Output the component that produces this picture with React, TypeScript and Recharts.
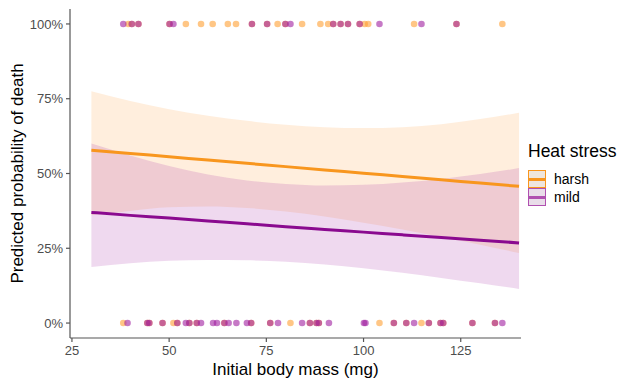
import React from "react";
import {
  ComposedChart,
  Area,
  Line,
  Scatter,
  XAxis,
  YAxis,
  Label,
} from "recharts";

// fitted curves (body mass in mg -> probability)
const mass = [30, 40, 50, 60, 70, 80, 90, 100, 110, 120, 130, 140];
const harshFit = [0.578, 0.567, 0.556, 0.545, 0.534, 0.523, 0.512, 0.501, 0.49, 0.479, 0.468, 0.457];
const harshLow = [0.36, 0.375, 0.387, 0.39, 0.385, 0.373, 0.356, 0.335, 0.313, 0.288, 0.262, 0.234];
const harshHigh = [0.775, 0.742, 0.715, 0.693, 0.676, 0.663, 0.655, 0.652, 0.655, 0.665, 0.682, 0.703];
const mildFit = [0.37, 0.36, 0.351, 0.341, 0.332, 0.322, 0.313, 0.304, 0.295, 0.286, 0.277, 0.268];
const mildLow = [0.187, 0.2, 0.208, 0.211, 0.21, 0.205, 0.196, 0.183, 0.168, 0.151, 0.133, 0.114];
const mildHigh = [0.6, 0.56, 0.525, 0.497, 0.477, 0.465, 0.46, 0.462, 0.47, 0.482, 0.498, 0.518];

// observed larvae: died (1) or survived (0)
const harshDied = [39.5, 40.4, 42.1, 50.1, 54.3, 58.2, 61.2, 65.1, 67.2, 71.3, 75.2, 77.9, 79.9, 84.2, 88.9, 90.9, 92.2, 94.1, 96.0, 99.0, 100.3, 101.2, 113.0, 123.9, 135.7];
const mildDied = [38.2, 40.4, 42.1, 50.1, 51.1, 71.3, 75.2, 79.9, 81.2, 92.2, 94.1, 96.0, 99.0, 104.1, 114.9, 123.9];
const harshSurvived = [38.2, 44.4, 44.9, 48.3, 51.1, 52.1, 55.2, 57.1, 64.2, 71.1, 76.0, 81.2, 86.2, 87.9, 88.5, 104.1, 107.8, 111.0, 114.9, 116.8, 119.8, 120.5, 128.0, 133.8];
const mildSurvived = [39.3, 44.4, 44.9, 48.3, 52.1, 54.3, 55.2, 57.1, 58.2, 61.3, 62.3, 64.2, 65.3, 67.3, 70.0, 71.1, 76.0, 78.0, 84.2, 86.2, 87.9, 88.5, 91.1, 100.1, 100.5, 107.8, 111.0, 113.0, 116.8, 119.8, 120.5, 128.0, 133.8, 135.7];

const xTicks = [25, 50, 75, 100, 125];
const yTicks = [0, 0.25, 0.5, 0.75, 1];

const ORANGE = "#F8961E";
const PURPLE = "#8A0A8F";
const FONT = "'Liberation Sans', Arial, sans-serif";

const curves = mass.map((m, i) => ({
  mass: m,
  harsh: harshFit[i],
  mild: mildFit[i],
  harshBand: [harshLow[i], harshHigh[i]],
  mildBand: [mildLow[i], mildHigh[i]],
}));

const pts = (xs: number[], y: number) => xs.map((m) => ({ mass: m, y }));
const harshPts = [...pts(harshDied, 1), ...pts(harshSurvived, 0)];
const mildPts = [...pts(mildDied, 1), ...pts(mildSurvived, 0)];

const dot = (color: string) => (props: any) => (
  <circle cx={props.cx} cy={props.cy} r={3.3} fill={color} fillOpacity={0.6} />
);

const LegendKey = ({ color, fill, label }: { color: string; fill: string; label: string }) => (
  <div style={{ display: "flex", alignItems: "center", height: 18 }}>
    <div
      style={{
        width: 16,
        height: 16,
        border: `1px solid ${color}`,
        background: fill,
        position: "relative",
      }}
    >
      <div style={{ position: "absolute", left: 0, right: 0, top: 6.5, height: 3, background: color }} />
    </div>
    <span style={{ marginLeft: 8, fontSize: 14, color: "#000" }}>{label}</span>
  </div>
);

export default function App() {
  return (
    <div style={{ position: "absolute", left: 0, top: 0, width: 620, height: 383, background: "#fff", fontFamily: FONT }}>
      <ComposedChart
        width={620}
        height={383}
        data={curves}
        margin={{ top: 9, right: 99, bottom: 0, left: 0 }}
      >
        <XAxis
          type="number"
          dataKey="mass"
          domain={[24.5, 140.5]}
          ticks={xTicks}
          allowDataOverflow
          height={45}
          tickSize={4}
          tickMargin={4}
          stroke="#555"
          strokeWidth={1.2}
          tick={{ fill: "#4d4d4d", fontSize: 13, fontFamily: FONT }}
        >
          <Label
            value="Initial body mass (mg)"
            position="insideBottom"
            offset={8}
            style={{ fontSize: 17, fill: "#000", fontFamily: FONT }}
          />
        </XAxis>
        <YAxis
          type="number"
          dataKey="y"
          domain={[-0.05, 1.05]}
          ticks={yTicks}
          allowDataOverflow
          width={70}
          tickSize={4}
          tickMargin={3}
          stroke="#555"
          strokeWidth={1.2}
          tickFormatter={(v: number) => `${Math.round(v * 100)}%`}
          tick={{ fill: "#4d4d4d", fontSize: 13, fontFamily: FONT }}
        >
          <Label
            value="Predicted probability of death"
            angle={-90}
            position="insideLeft"
            offset={17}
            style={{ fontSize: 17, fill: "#000", fontFamily: FONT, textAnchor: "middle" }}
          />
        </YAxis>
        <Area
          dataKey="harshBand"
          type="monotone"
          stroke="none"
          fill="#FFA040"
          fillOpacity={0.18}
          isAnimationActive={false}
          activeDot={false}
        />
        <Area
          dataKey="mildBand"
          type="monotone"
          stroke="none"
          fill="#A020A0"
          fillOpacity={0.17}
          isAnimationActive={false}
          activeDot={false}
        />
        <Line
          dataKey="harsh"
          type="monotone"
          stroke={ORANGE}
          strokeWidth={3}
          dot={false}
          activeDot={false}
          isAnimationActive={false}
        />
        <Line
          dataKey="mild"
          type="monotone"
          stroke={PURPLE}
          strokeWidth={3}
          dot={false}
          activeDot={false}
          isAnimationActive={false}
        />
        <Scatter data={harshPts} dataKey="y" shape={dot("#FFA033")} isAnimationActive={false} />
        <Scatter data={mildPts} dataKey="y" shape={dot("#A020A0")} isAnimationActive={false} />
      </ComposedChart>
      <div style={{ position: "absolute", left: 528, top: 141, fontFamily: FONT }}>
        <div style={{ fontSize: 17.5, color: "#000", marginBottom: 8, whiteSpace: "nowrap" }}>Heat stress</div>
        <LegendKey color={ORANGE} fill="#EFE6DD" label="harsh" />
        <LegendKey color="#B050B0" fill="#E9DDE9" label="mild" />
      </div>
    </div>
  );
}
